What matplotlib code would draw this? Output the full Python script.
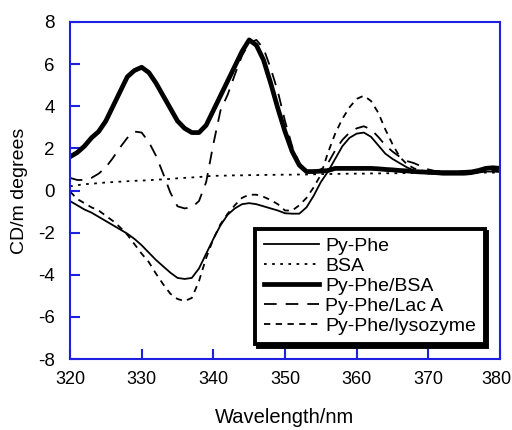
import matplotlib
matplotlib.use("Agg")
import matplotlib.pyplot as plt
import matplotlib.transforms as mtransforms
import numpy as np

plt.rcParams['font.family'] = ['Liberation Sans', 'DejaVu Sans']

wavelength = list(range(320, 381))

py_phe = [-0.5, -0.7, -0.9, -1.05, -1.25, -1.45, -1.65, -1.85, -2.05, -2.3,
          -2.6, -2.95, -3.3, -3.6, -3.9, -4.15, -4.2, -4.15, -3.7, -3.0,
          -2.3, -1.65, -1.15, -0.85, -0.65, -0.6, -0.65, -0.75, -0.85, -0.95,
          -1.08, -1.1, -1.1, -0.8, -0.25, 0.4, 0.9, 1.5, 2.1, 2.5,
          2.7, 2.75, 2.55, 2.15, 1.75, 1.5, 1.3, 1.1, 0.95, 0.85,
          0.8, 0.78, 0.75, 0.75, 0.75, 0.75, 0.78, 0.85, 0.9, 0.9, 0.88]

bsa = [0.2, 0.25, 0.3, 0.32, 0.35, 0.38, 0.4, 0.42, 0.44, 0.46,
       0.47, 0.49, 0.51, 0.53, 0.55, 0.58, 0.6, 0.62, 0.64, 0.67,
       0.7, 0.7, 0.71, 0.72, 0.72, 0.73, 0.73, 0.74, 0.74, 0.75,
       0.75, 0.75, 0.76, 0.76, 0.77, 0.78, 0.78, 0.79, 0.79, 0.8,
       0.8, 0.8, 0.81, 0.81, 0.82, 0.82, 0.82, 0.83, 0.83, 0.84,
       0.84, 0.84, 0.84, 0.85, 0.85, 0.85, 0.85, 0.85, 0.85, 0.85, 0.85]

py_phe_bsa = [1.6, 1.8, 2.1, 2.5, 2.8, 3.3, 4.0, 4.7, 5.4, 5.7,
              5.85, 5.6, 5.1, 4.5, 3.9, 3.3, 2.95, 2.75, 2.75, 3.1,
              3.8, 4.5, 5.2, 5.9, 6.6, 7.15, 6.9, 6.2, 5.1, 3.9,
              2.8, 1.85, 1.2, 0.9, 0.9, 0.92, 0.95, 1.05, 1.05, 1.05,
              1.05, 1.05, 1.05, 1.03, 1.0, 0.98, 0.95, 0.93, 0.9, 0.88,
              0.87, 0.86, 0.85, 0.85, 0.85, 0.86, 0.88, 0.95, 1.05, 1.08, 1.05]

py_phe_laca = [0.6, 0.5, 0.5, 0.6, 0.8, 1.1, 1.55, 2.05, 2.5, 2.8,
               2.75, 2.3, 1.65, 0.8, -0.1, -0.75, -0.85, -0.8, -0.5, 0.4,
               2.2, 3.8, 4.55, 5.5, 6.4, 7.0, 7.15, 6.75, 5.8, 4.7,
               3.3, 2.1, 1.3, 0.95, 0.9, 1.0, 1.3, 1.9, 2.4, 2.75,
               2.95, 3.05, 2.9, 2.55, 2.15, 1.85, 1.6, 1.4, 1.3, 1.15,
               1.0, 0.92, 0.9, 0.88, 0.88, 0.88, 0.9, 0.95, 1.0, 1.0, 0.98]

py_phe_lyso = [-0.05, -0.4, -0.6, -0.8, -0.95, -1.2, -1.45, -1.75, -2.1, -2.55,
               -3.0, -3.4, -3.95, -4.45, -4.9, -5.15, -5.25, -5.1, -4.3, -3.2,
               -2.3, -1.6, -1.1, -0.7, -0.35, -0.2, -0.2, -0.3, -0.45, -0.65,
               -0.95, -0.95, -0.7, -0.35, 0.15, 0.75, 1.8, 2.7, 3.4, 3.95,
               4.35, 4.5, 4.25, 3.7, 2.9, 2.2, 1.6, 1.25, 1.05, 0.95,
               0.9, 0.88, 0.87, 0.87, 0.87, 0.87, 0.88, 0.9, 0.95, 0.95, 0.93]

labels = ["Py-Phe", "BSA", "Py-Phe/BSA", "Py-Phe/Lac A", "Py-Phe/lysozyme"]
xticks = [320, 330, 340, 350, 360, 370, 380]
yticks = [-8, -6, -4, -2, 0, 2, 4, 6, 8]

fig = plt.figure(figsize=(5.12, 4.30), dpi=100)
ax = fig.add_axes([70/512, 1 - 359/430, 430/512, 337/430])

ax.plot(wavelength, py_phe, color='black', lw=1.3, ls='-', label=labels[0])
ax.plot(wavelength, bsa, color='black', lw=1.3, ls=(0, (1.5, 3)), label=labels[1])
ax.plot(wavelength, py_phe_bsa, color='black', lw=3.4, ls='-', label=labels[2])
ax.plot(wavelength, py_phe_laca, color='black', lw=1.3, ls=(0, (7, 5)), label=labels[3])
ax.plot(wavelength, py_phe_lyso, color='black', lw=1.3, ls=(0, (3.5, 3)), label=labels[4])

ax.set_xlim(320, 380)
ax.set_ylim(-8, 8)
ax.set_xticks(xticks)
ax.set_yticks(yticks)
ax.set_xticklabels([str(t) for t in xticks])
ax.set_yticklabels([str(t) for t in yticks])

blue = '#1f1fe0'
for s in ax.spines.values():
    s.set_color(blue)
    s.set_linewidth(1.5)
ax.tick_params(direction='in', length=7.5, width=1.5, color=blue, labelsize=13.5,
               labelcolor='black')
ax.tick_params(axis='y', pad=11)
ax.tick_params(axis='x', pad=9, labelsize=13)

# nudge the last x tick label so it stays inside the figure
last = ax.get_xticklabels()[-1]
last.set_transform(last.get_transform() +
                   mtransforms.ScaledTranslation(-4/100, 0, fig.dpi_scale_trans))

ax.set_xlabel("Wavelength/nm", fontsize=14.5, labelpad=14)
ax.set_ylabel("CD/m degrees", fontsize=14, labelpad=7)

leg = ax.legend(loc='upper left', bbox_to_anchor=(0.430, 0.386), borderaxespad=0,
                fontsize=14, handlelength=2.85, handletextpad=0.3,
                labelspacing=0.12, borderpad=0.45, fancybox=False,
                framealpha=1, edgecolor='black',
                shadow={'color': 'black', 'alpha': 1.0})
leg.get_frame().set_linewidth(2.8)

fig.savefig("out.png", dpi=100)
